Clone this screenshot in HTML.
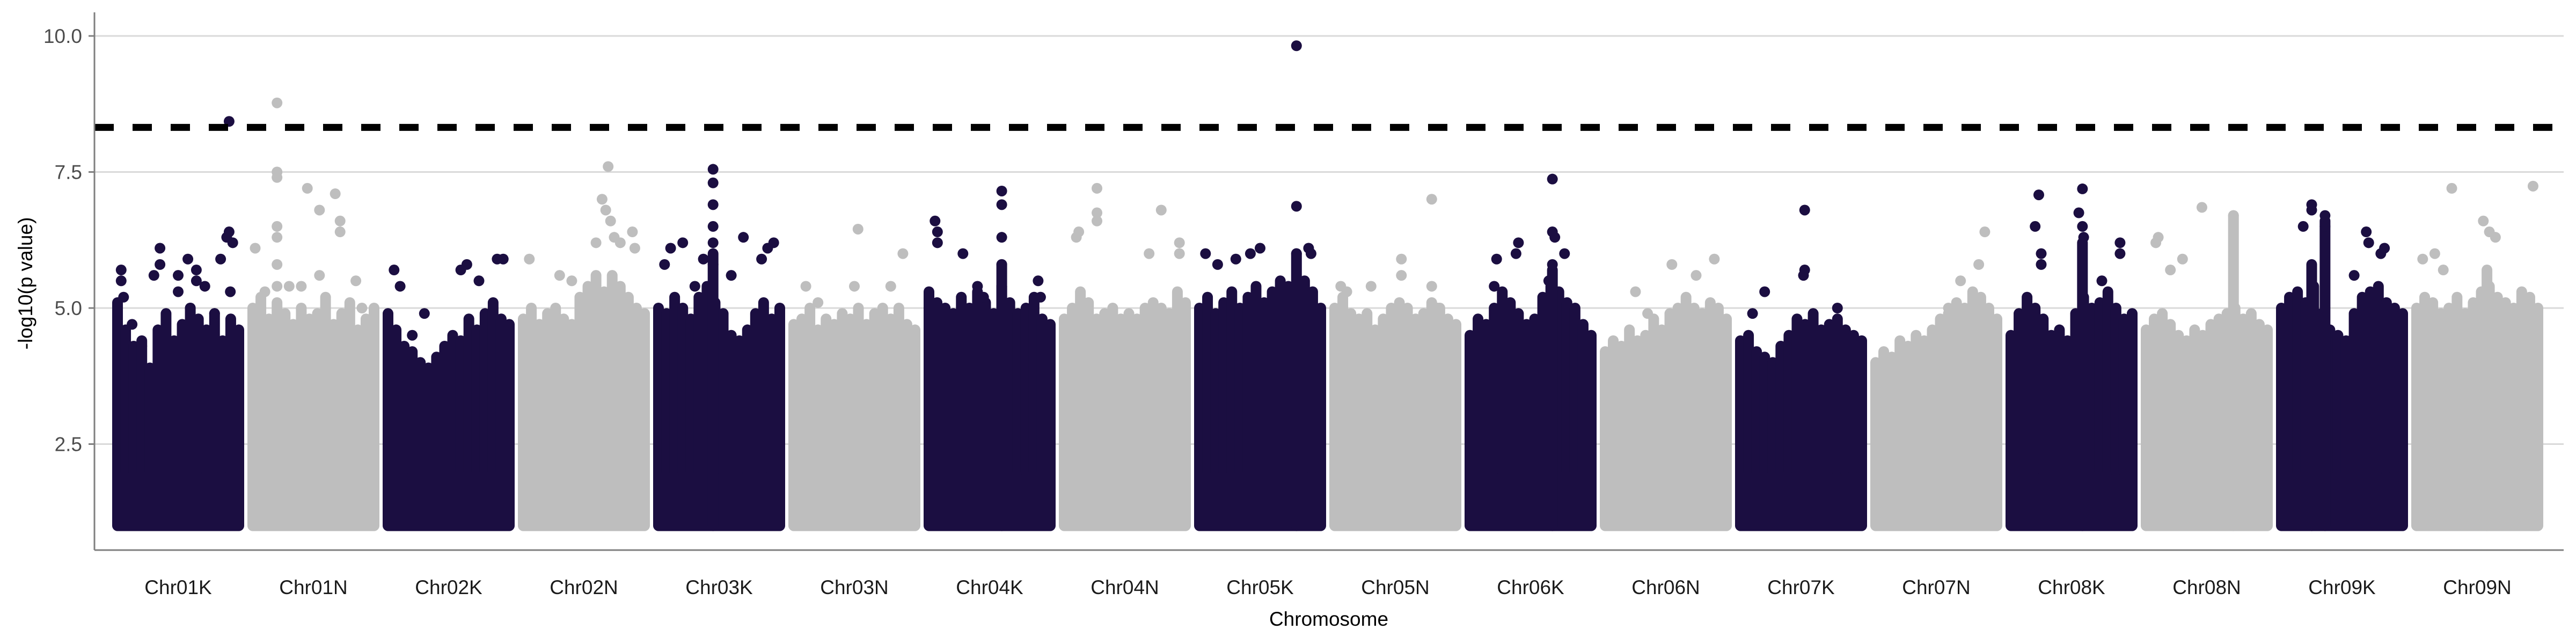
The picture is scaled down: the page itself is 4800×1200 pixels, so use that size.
<!DOCTYPE html>
<html><head><meta charset="utf-8">
<style>
html,body{margin:0;padding:0;background:#fff;}
svg{display:block;font-family:"Liberation Sans",sans-serif;}
</style></head>
<body>
<svg id="chart" width="4800" height="1200" viewBox="0 0 4800 1200" xmlns="http://www.w3.org/2000/svg">
  <g id="grid"></g>
  <g id="blobs"></g>
  <g id="points"></g>
  <line id="thr" x1="176" x2="4777" stroke="#000" stroke-width="13" stroke-dasharray="36,35"/>
  <line x1="176" y1="23" x2="176" y2="1025" stroke="#7f7f7f" stroke-width="3"/>
  <line x1="176" y1="1025" x2="4777" y2="1025" stroke="#7f7f7f" stroke-width="3"/>
  <g id="yticks"></g>
  <g id="xticks"></g>
  <text x="0" y="0" transform="translate(60,528) rotate(-90)" text-anchor="middle" font-size="37" fill="#000">-log10(p value)</text>
  <text x="2476" y="1166" text-anchor="middle" font-size="37" fill="#000">Chromosome</text>
</svg>
<script>
const chromosomes = ["Chr01K","Chr01N","Chr02K","Chr02N","Chr03K","Chr03N","Chr04K","Chr04N","Chr05K","Chr05N","Chr06K","Chr06N","Chr07K","Chr07N","Chr08K","Chr08N","Chr09K","Chr09N"];
const yTicks = [2.5, 5.0, 7.5, 10.0];
const yTickLabels = ["2.5","5.0","7.5","10.0"];
const threshold = 8.32;
const baseValue = 1.0;
const envelopes = [
 [4.0,3.8,3.6,3.7,4.0,3.9,3.8,4.1],
 [4.3,4.1,4.1,4.1,4.2,4.1,4.0,4.0],
 [3.9,3.7,3.5,3.4,3.6,3.8,4.1,4.1],
 [4.1,4.3,4.2,4.1,4.4,4.6,4.6,4.4],
 [4.1,4.2,4.0,4.3,4.0,3.7,4.0,4.2],
 [3.9,4.0,4.0,4.1,4.1,4.1,4.0,3.9],
 [4.4,4.2,4.3,4.2,4.2,4.3,4.1,4.1],
 [4.1,4.2,4.1,4.1,4.1,4.2,4.2,4.3],
 [4.3,4.2,4.3,4.3,4.4,4.4,4.5,4.3],
 [4.3,4.2,4.1,4.0,4.1,4.2,4.3,4.0],
 [3.8,4.0,4.3,4.1,4.0,4.3,4.2,3.8],
 [3.6,3.7,3.9,3.7,4.0,4.1,4.3,4.2],
 [3.7,3.6,3.5,3.6,3.9,4.0,3.9,3.8],
 [3.4,3.6,3.7,3.8,3.9,4.2,4.4,4.1],
 [3.9,4.2,3.8,3.7,4.2,4.1,4.3,4.2],
 [3.8,4.0,3.8,3.8,3.9,4.1,4.1,4.0],
 [4.3,4.4,4.2,3.8,4.4,4.4,4.3,4.2],
 [4.2,4.3,4.2,4.1,4.3,4.5,4.4,4.3]
];
const fringe = [
 [5.1,4.6,4.3,4.4,3.9,4.6,4.9,4.4,4.7,5.0,4.8,4.6,4.9,4.4,4.8,4.6],
 [5.0,5.2,4.8,5.1,4.9,4.7,5.0,4.8,4.9,5.2,4.7,4.9,5.1,4.6,4.8,5.0],
 [4.9,4.6,4.3,4.2,4.0,3.9,4.1,4.3,4.5,4.4,4.8,4.6,4.9,5.1,4.8,4.7],
 [4.8,5.0,4.7,4.9,5.0,4.8,4.7,5.2,5.4,5.6,5.3,5.6,5.4,5.2,5.0,4.9],
 [5.0,4.9,5.2,5.0,4.8,5.2,5.4,5.1,4.9,4.5,4.4,4.6,4.9,5.1,4.8,5.0],
 [4.7,4.8,5.0,4.6,4.8,4.7,4.9,4.8,5.0,4.7,4.9,5.0,4.8,5.0,4.7,4.6],
 [5.3,5.1,5.0,4.9,5.2,5.0,5.3,5.1,4.9,5.4,5.1,4.9,5.0,5.2,4.8,4.7],
 [4.8,5.0,5.3,5.1,4.8,4.9,5.0,4.8,4.9,4.8,5.0,5.1,5.0,4.9,5.3,5.1],
 [5.0,5.2,4.9,5.1,5.3,5.0,5.2,5.4,5.1,5.3,5.5,5.4,5.2,5.5,5.3,5.0],
 [5.0,5.2,4.9,4.8,4.9,4.6,4.8,5.0,5.1,5.0,4.8,4.9,5.1,5.0,4.8,4.7],
 [4.5,4.8,4.7,5.0,5.3,5.1,4.9,4.7,4.8,5.2,5.4,5.3,5.1,5.0,4.7,4.5],
 [4.2,4.4,4.3,4.6,4.4,4.5,4.8,4.6,4.9,5.0,5.2,5.0,4.9,5.1,5.0,4.8],
 [4.4,4.5,4.2,4.1,4.0,4.3,4.5,4.8,4.7,4.9,4.6,4.7,4.8,4.6,4.5,4.4],
 [4.0,4.2,4.1,4.4,4.3,4.5,4.4,4.6,4.8,4.9,5.1,5.0,5.3,5.2,5.0,4.8],
 [4.5,4.9,5.2,5.0,4.8,4.5,4.6,4.4,4.9,5.2,5.0,5.1,5.3,5.0,4.8,4.9],
 [4.6,4.8,4.9,4.7,4.5,4.4,4.6,4.5,4.7,4.8,4.9,5.0,4.8,4.9,4.7,4.6],
 [5.0,5.2,5.3,5.1,5.4,4.9,4.6,4.5,4.4,4.9,5.2,5.3,5.4,5.1,5.0,4.9],
 [5.0,5.2,5.1,4.9,5.0,5.2,4.9,5.1,5.3,5.4,5.2,5.1,5.0,5.3,5.2,5.0]
];
const spikeChr = [4,6,8,10,14,15,16,16,17];
const spikeFrac = [0.45,0.6,0.8,0.68,0.59,0.72,0.25,0.36,0.58];
const spikeTop = [6.0,5.8,6.0,5.7,6.2,6.7,5.8,6.6,5.7];
const outlierChr = [0,0,0,0,0,0,0,0,0,0,0,0,0,0,0,0,0,0,0,0,0,0,
 1,1,1,1,1,1,1,1,1,1,1,1,1,1,1,1,1,1,1,
 2,2,2,2,2,2,2,2,2,
 3,3,3,3,3,3,3,3,3,3,3,3,3,
 4,4,4,4,4,4,4,4,4,4,4,4,4,4,4,4,
 5,5,5,5,5,5,
 6,6,6,6,6,6,6,6,6,6,6,6,6,
 7,7,7,7,7,7,7,7,7,
 8,8,8,8,8,8,8,8,8,8,
 9,9,9,9,9,9,9,9,
 10,10,10,10,10,10,10,10,10,10,
 11,11,11,11,11,
 12,12,12,12,12,12,
 13,13,13,13,
 14,14,14,14,14,14,14,14,14,14,14,
 15,15,15,15,15,15,
 16,16,16,16,16,16,16,16,16,16,
 17,17,17,17,17,17,17,17];
const outlierFrac = [0.03,0.03,0.05,0.35,0.3,0.35,0.5,0.5,0.58,0.65,0.65,0.72,0.85,0.9,0.92,0.95,0.92,0.93,0.12,0.2,0.8,0.6,
 0.02,0.2,0.2,0.2,0.2,0.2,0.2,0.2,0.45,0.55,0.68,0.72,0.72,0.1,0.3,0.4,0.55,0.85,0.9,
 0.05,0.1,0.3,0.6,0.65,0.75,0.9,0.95,0.2,
 0.05,0.3,0.4,0.55,0.65,0.7,0.68,0.72,0.75,0.8,0.9,0.92,0.6,
 0.45,0.45,0.45,0.45,0.45,0.45,0.1,0.2,0.3,0.37,0.6,0.7,0.85,0.9,0.95,0.05,
 0.53,0.9,0.1,0.5,0.8,0.2,
 0.05,0.07,0.07,0.28,0.6,0.6,0.6,0.6,0.6,0.4,0.45,0.9,0.92,
 0.27,0.27,0.27,0.1,0.12,0.8,0.95,0.95,0.7,
 0.05,0.15,0.3,0.42,0.5,0.9,0.92,0.8,0.8,0.8,
 0.8,0.55,0.55,0.05,0.1,0.3,0.8,0.85,
 0.4,0.38,0.22,0.68,0.68,0.7,0.78,0.68,0.65,0.2,
 0.55,0.9,0.75,0.25,0.35,
 0.53,0.52,0.53,0.2,0.1,0.8,
 0.9,0.7,0.6,0.85,
 0.23,0.2,0.25,0.25,0.59,0.56,0.59,0.6,0.9,0.9,0.75,
 0.46,0.1,0.08,0.3,0.72,0.2,
 0.25,0.25,0.18,0.36,0.36,0.7,0.72,0.82,0.85,0.6,
 0.29,0.96,0.55,0.6,0.05,0.15,0.22,0.65];
const outlierValue = [5.7,5.5,5.2,6.1,5.6,5.8,5.6,5.3,5.9,5.7,5.5,5.4,5.9,6.3,6.4,6.2,8.43,5.3,4.7,4.3,4.9,5.0,
 6.1,8.77,7.5,7.4,6.5,6.3,5.8,5.4,7.2,6.8,7.1,6.6,6.4,5.3,5.4,5.4,5.6,5.5,5.0,
 5.7,5.4,4.9,5.7,5.8,5.5,5.9,5.9,4.5,
 5.9,5.6,5.5,5.3,7.0,7.6,6.8,6.6,6.3,6.2,6.4,6.1,6.2,
 7.55,7.3,6.9,6.5,6.2,5.8,6.1,6.2,5.4,5.9,5.6,6.3,5.9,6.1,6.2,5.8,
 6.45,6.0,5.4,5.4,5.4,5.1,
 6.6,6.4,6.2,6.0,7.15,6.9,6.3,5.8,5.4,5.4,5.2,5.5,5.2,
 7.2,6.75,6.6,6.3,6.4,6.8,6.0,6.2,6.0,
 6.0,5.8,5.9,6.0,6.1,6.1,6.0,9.82,6.87,6.0,
 7.0,5.9,5.6,5.4,5.3,5.4,5.4,5.0,
 6.2,6.0,5.9,7.37,6.4,6.3,6.0,5.8,5.5,5.4,
 5.8,5.9,5.6,5.3,4.9,
 6.8,5.6,5.7,5.3,4.9,5.0,
 6.4,5.5,5.0,5.8,
 7.08,6.5,6.0,5.8,7.19,6.75,6.5,6.3,6.2,6.0,5.5,
 6.85,6.3,6.2,5.9,6.7,5.7,
 6.9,6.8,6.5,6.7,6.5,6.4,6.2,6.0,6.1,5.6,
 7.2,7.24,6.6,6.4,5.9,6.0,5.7,6.3];

const NS = "http://www.w3.org/2000/svg";
const X0 = 209, STEP = 252, W = 246, R = 10;
const DARK = "#1b0e41", LIGHT = "#bebebe";
function xPos(chr, frac){ return X0 + STEP*chr + R + frac*(W - 2*R); }
function yPos(v){ return 1081 - 101.4*v; }
function mk(tag, attrs, parent){ const e=document.createElementNS(NS,tag); for(const k in attrs) e.setAttribute(k,attrs[k]); parent.appendChild(e); return e; }

const grid = document.getElementById("grid");
yTicks.forEach((t,i)=>{
  const g = mk("line",{x1:176,x2:4777,y1:yPos(t),y2:yPos(t),stroke:"#d9d9d9","stroke-width":3},grid);
  
  
  const tk = mk("line",{x1:165,x2:176,y1:yPos(t),y2:yPos(t),stroke:"#7f7f7f","stroke-width":3},document.getElementById("yticks"));
  
  
  const tx = mk("text",{x:153,y:yPos(t)+13,"text-anchor":"end","font-size":37,fill:"#4d4d4d"},document.getElementById("yticks"));
  tx.textContent = yTickLabels[i];
  
  
});
const thr = document.getElementById("thr");
thr.setAttribute("y1", yPos(threshold)); thr.setAttribute("y2", yPos(threshold));

const blobs = document.getElementById("blobs");
chromosomes.forEach((name,c)=>{
  const col = c%2===0 ? DARK : LIGHT;
  const env = envelopes[c];
  let d = "M"+xPos(c,0)+","+yPos(baseValue);
  env.forEach((v,k)=>{ d += " L"+xPos(c,k/(env.length-1))+","+yPos(v); });
  d += " L"+xPos(c,1)+","+yPos(baseValue)+" Z";
  const p = mk("path",{d:d,fill:col,stroke:col,"stroke-width":2*R,"stroke-linejoin":"round"},blobs);
  
  
  const fr = fringe[c];
  fr.forEach((v,k)=>{
    const x = xPos(c, k/(fr.length-1));
    const s = mk("line",{x1:x,x2:x,y1:yPos(baseValue+1),y2:yPos(v),stroke:col,"stroke-width":2*R,"stroke-linecap":"round"},blobs);
    
    
  });
  const lbl = mk("text",{x:X0+STEP*c+W/2,y:1107,"text-anchor":"middle","font-size":37,fill:"#1a1a1a"},document.getElementById("xticks"));
  lbl.textContent = name;
  
  
});
spikeChr.forEach((c,i)=>{
  const col = c%2===0 ? DARK : LIGHT;
  const x = xPos(c, spikeFrac[i]);
  const s = mk("line",{x1:x,x2:x,y1:yPos(baseValue),y2:yPos(spikeTop[i]),stroke:col,"stroke-width":2*R,"stroke-linecap":"round"},blobs);
  
  
});
const pts = document.getElementById("points");
outlierChr.forEach((c,i)=>{
  const col = c%2===0 ? DARK : LIGHT;
  const cc = mk("circle",{cx:xPos(c,outlierFrac[i]),cy:yPos(outlierValue[i]),r:R,fill:col},pts);
  
  
});
</script>
</body></html>
